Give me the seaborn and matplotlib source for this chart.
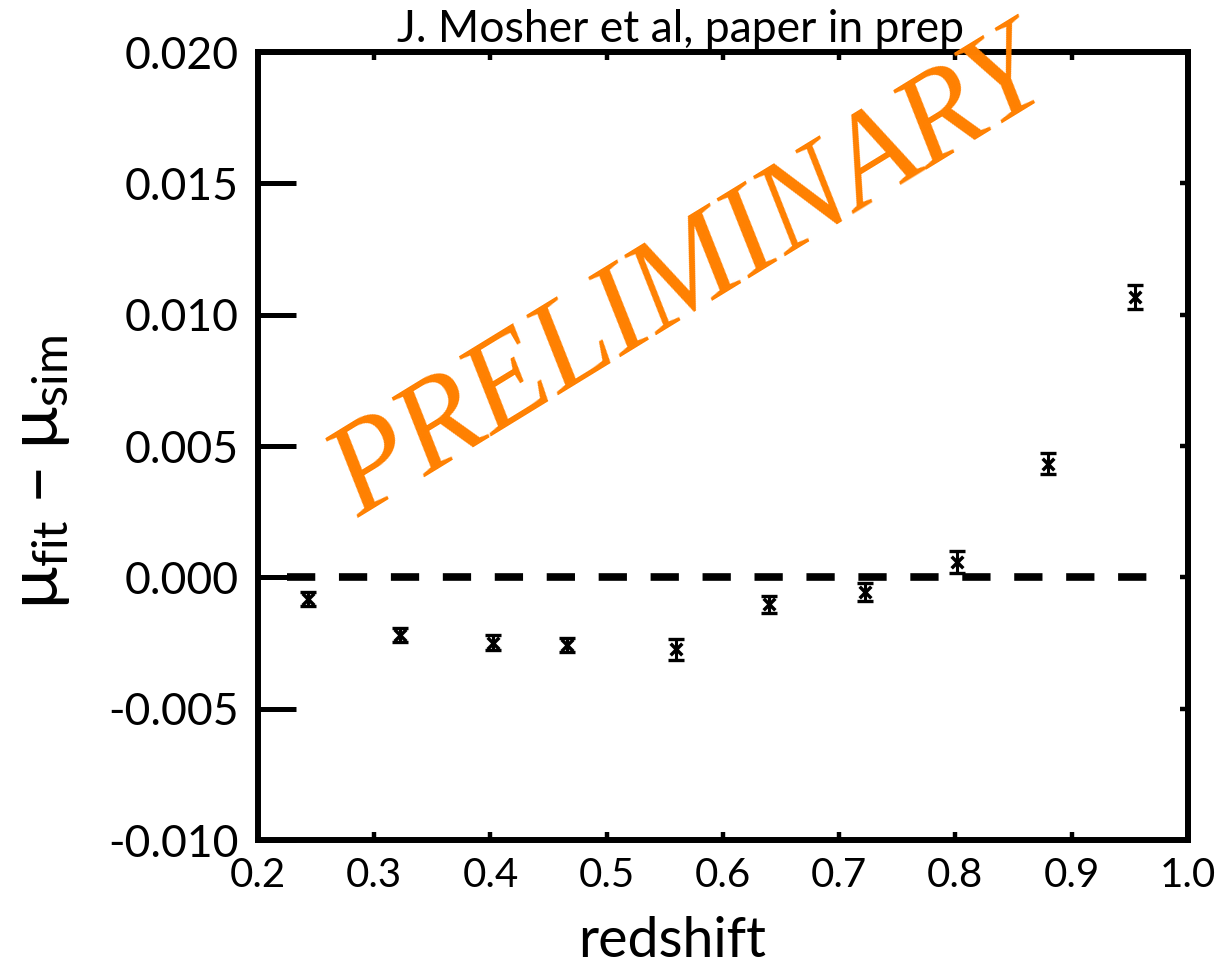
import numpy as np
import pandas as pd
import seaborn as sns
import matplotlib
matplotlib.use("Agg")
import matplotlib.pyplot as plt

# values
redshift = [0.243, 0.322, 0.402, 0.466, 0.560, 0.640, 0.722, 0.801, 0.880, 0.955]
dmu = [-0.00083, -0.0022, -0.00248, -0.00257, -0.00273, -0.00103, -0.00056, 0.00058, 0.00433, 0.01067]
dmu_err = [0.00027, 0.00027, 0.00027, 0.00027, 0.0004, 0.00034, 0.00035, 0.00042, 0.0004, 0.00046]
zero_x = [0.225, 0.977]
zero_y = [0.0, 0.0]
xticks = [0.2, 0.3, 0.4, 0.5, 0.6, 0.7, 0.8, 0.9, 1.0]
yticks = [-0.010, -0.005, 0.000, 0.005, 0.010, 0.015, 0.020]

df = pd.DataFrame({"redshift": redshift, "dmu": dmu, "err": dmu_err})

sns.set_style("ticks")
plt.rcParams["font.family"] = ["Lato", "DejaVu Sans"]
plt.rcParams["mathtext.default"] = "regular"
plt.rcParams["text.color"] = "black"
plt.rcParams["axes.labelcolor"] = "black"

fig = plt.figure(figsize=(12.17, 9.66), dpi=100)
ax = fig.add_axes([0.212, 0.1304, 0.764, 0.8157])

# dashed zero line
ax.plot(zero_x, zero_y, color="black", lw=5.5, dashes=(3.7, 3.1), zorder=2)

# error bars + x markers
ax.errorbar(df["redshift"], df["dmu"], yerr=df["err"], fmt="none", ecolor="black",
            elinewidth=2.2, capsize=5.5, capthick=2.4, zorder=3)
sns.scatterplot(data=df, x="redshift", y="dmu", marker="x", s=70, color="black",
                linewidth=2.5, ax=ax, zorder=4, legend=False)

ax.set_xlim(0.2, 1.0)
ax.set_ylim(-0.010, 0.020)
ax.set_xticks(xticks)
ax.set_yticks(yticks)
ax.set_xticklabels([f"{t:.1f}" for t in xticks])
ax.set_yticklabels([f"{t:.3f}" for t in yticks])

for s in ax.spines.values():
    s.set_visible(True)
    s.set_linewidth(4.3)
    s.set_color("black")

ax.tick_params(axis="y", which="major", direction="in", length=27, width=3.6,
               labelsize=32, pad=14, right=False, colors="black")
ax.tick_params(axis="x", which="major", direction="in", length=6, width=3.2,
               labelsize=29, pad=12, top=True, colors="black")
ax2 = ax.secondary_yaxis("right")
ax2.set_yticks(yticks)
ax2.tick_params(direction="in", length=6, width=3.2, labelright=False, colors="black")
ax2.spines["right"].set_linewidth(4.3)

ax.set_xlabel("redshift", fontsize=40)
ax.xaxis.set_label_coords(0.445, -0.096)
ax.set_ylabel(r"$\mu_{fit}$ – $\mu_{sim}$", fontsize=50)
ax.yaxis.set_label_coords(-0.2, 0.467)

fig.text(0.559, 0.9565, "J. Mosher et al, paper in prep", ha="center",
         va="baseline", fontsize=32)

fig.text(0.567, 0.712, "PRELIMINARY", color="#FF8000", fontsize=93,
         family=["Liberation Serif", "DejaVu Serif"], style="italic",
         rotation=31.5, ha="center", va="center", rotation_mode="anchor")

fig.savefig("out.png", dpi=100)
